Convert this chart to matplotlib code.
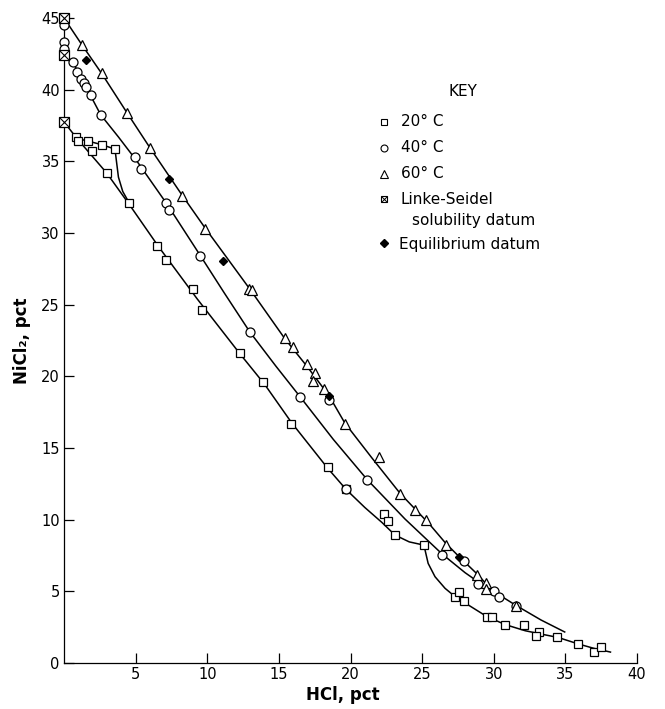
import matplotlib
matplotlib.use('Agg')
import matplotlib.pyplot as plt

plt.rcParams['font.family'] = ['DejaVu Sans']

# ---------------- data ----------------
sq20_x = [0.84, 1.0, 1.65, 1.98, 2.68, 3.56, 2.97, 4.55,
          6.52, 7.15, 9.03, 9.63, 12.3, 13.9, 15.85, 18.4, 19.7,
          22.34, 22.6, 23.1, 25.1,
          27.3, 27.57, 27.92, 29.5, 29.9, 30.77, 32.1, 33.16, 32.98, 34.45, 35.9, 37.0, 37.5]
sq20_y = [36.7, 36.4, 36.4, 35.7, 36.15, 35.85, 34.2, 32.1,
          29.1, 28.1, 26.1, 24.6, 21.6, 19.6, 16.7, 13.65, 12.15,
          10.4, 9.93, 8.93, 8.23,
          4.63, 4.98, 4.35, 3.19, 3.19, 2.65, 2.65, 2.18, 1.88, 1.84, 1.33, 0.75, 1.14]

ci40_x = [0.0, 0.0, 0.0, 0.63, 0.93, 1.21, 1.40, 1.56, 1.91, 2.56, 4.96, 5.36, 7.12, 7.35,
          9.5, 12.97, 16.5, 18.5, 19.7, 21.16, 26.4, 27.9, 28.92, 30.0, 30.37, 31.53]
ci40_y = [44.5, 43.3, 42.85, 41.9, 41.2, 40.75, 40.45, 40.2, 39.6, 38.2, 35.3, 34.5, 32.1, 31.6,
          28.4, 23.1, 18.55, 18.35, 12.15, 12.77, 7.54, 7.14, 5.51, 5.05, 4.63, 4.0]

tr60_x = [1.27, 2.65, 4.39, 6.03, 8.27, 9.85, 12.9, 13.1, 15.4, 16.0, 16.97, 17.5, 17.4, 18.15,
          19.6, 21.96, 23.45, 24.5, 25.25, 26.65, 28.85, 29.44, 29.44, 31.53]
tr60_y = [43.1, 41.15, 38.4, 35.9, 32.6, 30.3, 26.1, 26.05, 22.65, 22.07, 20.87, 20.2, 19.7, 19.1,
          16.7, 14.4, 11.8, 10.68, 9.98, 8.23, 6.14, 5.56, 5.14, 4.0]

ls_x = [0.0, 0.0, 0.0]            # Linke-Seidel solubility data
ls_y = [45.0, 42.4, 37.75]

eq_x = [1.56, 7.3, 11.13, 18.5, 27.57]   # equilibrium data
eq_y = [42.1, 33.8, 28.07, 18.63, 7.38]

# fitted curves (vertices)
c20a_x = [0.0, 0.9, 2.97, 4.55, 6.6, 9.3, 12.3, 14.0, 15.9, 18.4, 19.7, 21.0, 22.2, 23.1, 24.1, 25.1]
c20a_y = [37.75, 36.6, 34.2, 32.0, 29.05, 25.4, 21.55, 19.45, 16.75, 13.6, 12.1, 10.85, 9.8, 8.93, 8.45, 8.23]

c20b_x = [25.1, 25.2, 25.42, 25.9, 26.6, 27.3, 28.3, 29.5, 30.8, 32.2, 33.5, 34.5, 35.9, 37.0, 38.2]
c20b_y = [8.23, 7.9, 6.95, 6.02, 5.21, 4.63, 4.0, 3.25, 2.68, 2.25, 1.98, 1.78, 1.33, 1.02, 0.75]

c20m_x = [0.9, 1.65, 2.68, 3.56, 3.65, 3.8, 4.1, 4.55]
c20m_y = [36.6, 36.42, 36.15, 35.85, 35.1, 33.9, 32.9, 32.1]

c40_x = [0.0, 0.63, 1.4, 2.56, 3.8, 5.1, 7.2, 9.5, 11.2, 12.97, 14.8, 16.5, 18.8, 21.16,
         23.8, 26.4, 28.0, 29.0, 29.9, 31.5, 33.3, 35.0]
c40_y = [42.4, 41.9, 40.45, 38.25, 36.7, 35.0, 32.0, 28.45, 25.8, 23.1, 20.7, 18.55, 15.6, 12.8,
         10.05, 7.6, 6.3, 5.6, 5.05, 4.05, 3.0, 2.14]

c60_x = [0.0, 1.27, 2.65, 4.39, 6.03, 8.27, 9.85, 13.0, 15.4, 17.0, 18.5, 19.6, 21.5,
         23.45, 24.5, 25.5, 26.65, 27.6, 28.85, 29.9]
c60_y = [45.0, 43.1, 41.1, 38.4, 35.9, 32.6, 30.35, 26.05, 22.65, 20.65, 18.65, 16.75, 14.3,
         11.85, 10.75, 9.7, 8.35, 7.4, 6.2, 5.05]

x_ticks = [5, 10, 15, 20, 25, 30, 35, 40]
y_ticks = [0, 5, 10, 15, 20, 25, 30, 35, 40, 45]

key_labels = ['20° C', '40° C', '60° C', 'Linke-Seidel', 'Equilibrium datum']

# ---------------- figure ----------------
W, H = 665, 709
fig = plt.figure(figsize=(W / 100, H / 100), dpi=100)
ax = fig.add_axes([64 / W, 1 - 663 / H, 573 / W, 645 / H])
ax.set_xlim(0, 40)
ax.set_ylim(0, 45)
for s in ['top', 'right']:
    ax.spines[s].set_visible(False)
for s in ['left', 'bottom']:
    ax.spines[s].set_linewidth(0.9)
ax.set_xticks(x_ticks)
ax.set_yticks(y_ticks)
ax.tick_params(direction='in', length=7, width=0.9, labelsize=10.5, pad=3)

lw = 1.1
for cx, cy in [(c20a_x, c20a_y), (c20b_x, c20b_y), (c20m_x, c20m_y),
               (c40_x, c40_y), (c60_x, c60_y)]:
    ax.plot(cx, cy, color='black', lw=lw, zorder=2, solid_capstyle='butt')

mk = dict(linestyle='none', mfc='white', mec='black', mew=0.9, zorder=3, clip_on=False)
ax.plot(sq20_x, sq20_y, marker='s', ms=5.8, **mk)
ax.plot(ci40_x, ci40_y, marker='o', ms=6.5, **mk)
ax.plot(tr60_x, tr60_y, marker='^', ms=7, **mk)
ax.plot(eq_x, eq_y, marker='D', ms=4.3, linestyle='none', color='black', zorder=4)
ax.plot(ls_x, ls_y, marker='s', ms=6.5, **{**mk, 'zorder': 5})
ax.plot(ls_x, ls_y, marker='x', ms=6.5, linestyle='none', mec='black', mew=0.8,
        zorder=6, clip_on=False)

# axis labels
fig.text(343 / W, 1 - 695 / H, 'HCl, pct', ha='center', va='center',
         fontsize=12, fontweight='bold')
fig.text(22 / W, 1 - 341 / H, 'NiCl₂, pct', ha='center', va='center',
         rotation=90, fontsize=12, fontweight='bold')

# key
def fp(x, y):
    return x / W, 1 - y / H

fig.text(*fp(463, 92), 'KEY', ha='center', va='center', fontsize=11)
tf = fig.transFigure
kmk = dict(linestyle='none', mfc='white', mec='black', mew=0.8, transform=tf, clip_on=False)
x0, y0 = fp(384, 122)
fig.add_artist(plt.Line2D([x0], [y0], marker='s', ms=4.5, **kmk))
x0, y0 = fp(384, 148)
fig.add_artist(plt.Line2D([x0], [y0], marker='o', ms=5, **kmk))
x0, y0 = fp(384, 174)
fig.add_artist(plt.Line2D([x0], [y0], marker='^', ms=5.5, **kmk))
x0, y0 = fp(384, 199)
fig.add_artist(plt.Line2D([x0], [y0], marker='s', ms=5, **kmk))
fig.add_artist(plt.Line2D([x0], [y0], marker='x', ms=5, linestyle='none', mec='black',
                          mew=0.7, transform=tf))
x0, y0 = fp(384, 243)
fig.add_artist(plt.Line2D([x0], [y0], marker='D', ms=3.6, linestyle='none', color='black',
                          transform=tf))

fig.text(*fp(401, 122), key_labels[0], ha='left', va='center', fontsize=11)
fig.text(*fp(401, 148), key_labels[1], ha='left', va='center', fontsize=11)
fig.text(*fp(401, 174), key_labels[2], ha='left', va='center', fontsize=11)
fig.text(*fp(400, 199), key_labels[3], ha='left', va='center', fontsize=11)
fig.text(*fp(412, 220), 'solubility datum', ha='left', va='center', fontsize=11)
fig.text(*fp(399, 244), key_labels[4], ha='left', va='center', fontsize=11)

fig.savefig('out.png', dpi=100)
